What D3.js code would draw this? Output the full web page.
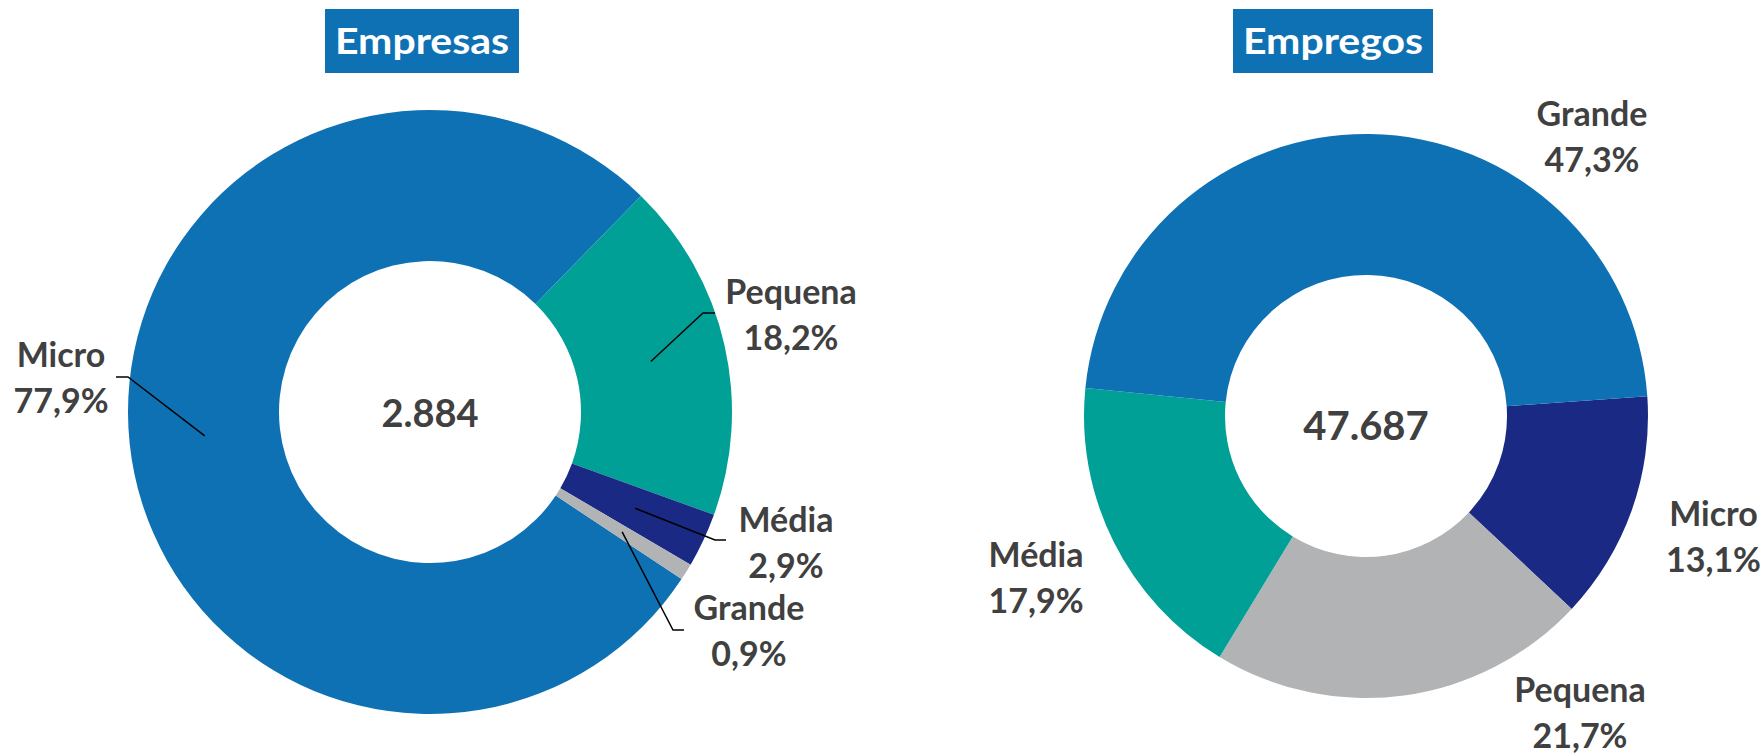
<!DOCTYPE html>
<html>
<head>
<meta charset="utf-8">
<script src="https://cdn.jsdelivr.net/npm/d3@7"></script>
<style>
  html, body { margin: 0; padding: 0; background: #fff; }
  svg text { font-family: Lato, "Noto Sans", sans-serif; font-weight: 700; }
</style>
</head>
<body>
<div id="chart"></div>
<script>
// Data
const categories = ['Micro', 'Pequena', 'Média', 'Grande']
const empresasValues = [77.9, 18.2, 2.9, 0.9]
const empregosValues = [13.1, 21.7, 17.9, 47.3]
const empresasTotal = '2.884'
const empregosTotal = '47.687'
const titles = ['Empresas', 'Empregos']

// Style / layout
const palette = { blue: '#0e71b4', teal: '#00a096', navy: '#1a2a84', gray: '#b2b3b5' }
const textColor = '#404040'

const charts = [
  {
    title: titles[0], values: empresasValues, total: empresasTotal,
    cx: 430, cy: 412, outer: 302, inner: 151, start: 123.6,
    colors: [palette.blue, palette.teal, palette.navy, palette.gray],
    totalSize: 38, totalDy: 14.7, titleDx: -8, titleW: 174,
    // label offsets from centre: [dx, dy of first baseline]
    labels: [[-369, -45], [361, -108], [356, 120], [319, 208]],
    // leader elbow / end offsets from centre
    leaders: [[[-302, -35], [-314, -35]], [[273, -99], [285, -99]],
              [[285, 128], [296, 128]], [[243, 218], [254, 218]]]
  },
  {
    title: titles[1], values: empregosValues, total: empregosTotal,
    cx: 1366, cy: 416, outer: 282, inner: 141, start: 86,
    colors: [palette.navy, palette.gray, palette.teal, palette.blue],
    totalSize: 40, totalDy: 24, titleDx: -33, titleW: 180,
    labels: [[347.5, 110], [214, 286], [-330, 151], [226, -290]],
    leaders: null
  }
]

const fmt = v => d3.format('.1f')(v).replace('.', ',') + '%'

const svg = d3.select('#chart').append('svg')
  .attr('width', 1764)
  .attr('height', 753)

charts.forEach(c => {
  const g = svg.append('g')
    .attr('transform', 'translate(' + c.cx + ',' + c.cy + ')')

  const pie = d3.pie()
    .sort(null)
    .value(d => d)
    .startAngle(c.start * Math.PI / 180)
    .endAngle((c.start + 360) * Math.PI / 180)

  const arc = d3.arc()
    .innerRadius(c.inner)
    .outerRadius(c.outer)

  const arcs = pie(c.values)

  g.selectAll('.slice')
    .data(arcs)
    .enter().append('path')
      .attr('class', 'slice')
      .attr('d', arc)
      .attr('fill', (d, i) => c.colors[i])

  // leader lines
  if (c.leaders) {
    g.selectAll('.leader')
      .data(arcs)
      .enter().append('polyline')
        .attr('class', 'leader')
        .attr('points', (d, i) => {
          const p = arc.centroid(d)
          return [p, c.leaders[i][0], c.leaders[i][1]].map(q => q.join(',')).join(' ')
        })
        .attr('fill', 'none')
        .attr('stroke', '#000')
        .attr('stroke-width', 1.5)
  }

  // labels
  const lab = g.selectAll('.lab')
    .data(arcs)
    .enter().append('text')
      .attr('class', 'lab')
      .attr('text-anchor', 'middle')
      .attr('fill', textColor)
      .style('font-size', '34px')
  lab.append('tspan')
    .attr('x', (d, i) => c.labels[i][0])
    .attr('y', (d, i) => c.labels[i][1])
    .text((d, i) => categories[i])
  lab.append('tspan')
    .attr('x', (d, i) => c.labels[i][0])
    .attr('y', (d, i) => c.labels[i][1] + 46)
    .text(d => fmt(d.data))

  // centre total
  g.append('text')
    .attr('text-anchor', 'middle')
    .attr('y', c.totalDy)
    .attr('fill', textColor)
    .style('font-size', c.totalSize + 'px')
    .text(c.total)

  // title box
  const tg = svg.append('g')
    .attr('transform', 'translate(' + (c.cx + c.titleDx) + ',0)')
  tg.append('rect')
    .attr('fill', palette.blue)
    .attr('x', -c.titleW / 2 - 10).attr('y', 9)
    .attr('width', c.titleW + 20).attr('height', 64)
  tg.append('text')
    .attr('text-anchor', 'middle')
    .attr('y', 54)
    .attr('fill', '#fff')
    .attr('textLength', c.titleW)
    .attr('lengthAdjust', 'spacingAndGlyphs')
    .style('font-size', '36px')
    .text(c.title)
})
</script>
</body>
</html>
